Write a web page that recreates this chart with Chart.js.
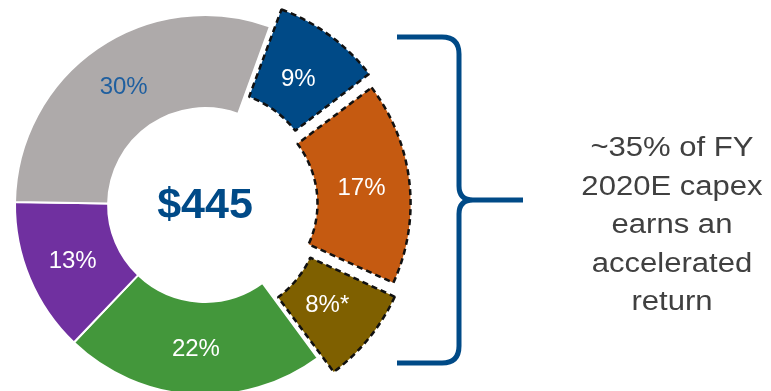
<!DOCTYPE html>
<html>
<head>
<meta charset="utf-8">
<script src="https://cdn.jsdelivr.net/npm/chart.js@4.4.0/dist/chart.umd.min.js"></script>
<style>
  html, body {
    margin: 0;
    padding: 0;
    background: #fff;
    overflow: hidden;
  }
  #wrap {
    position: relative;
    width: 771px;
    height: 391px;
  }
  #note {
    position: absolute;
    left: 560px;
    top: 128px;
    width: 224px;
    text-align: center;
    font-family: "Liberation Sans", Arial, sans-serif;
    font-size: 27px;
    line-height: 38.5px;
    color: #404040;
    transform: scaleX(1.15);
    transform-origin: center top;
  }
</style>
</head>
<body>
<div id="wrap">
  <canvas id="capex-chart"></canvas>
  <div id="note">~35% of FY<br>2020E capex<br>earns an<br>accelerated<br>return</div>
</div>
<script>
// FY 2020E capex split, % of total
const categories = ['Accelerated A', 'Accelerated B', 'Accelerated C', 'Other A', 'Other B', 'Other C'];
const shares = [9, 17, 8, 22, 13, 30];
const footnotes = ['', '', '*', '', '', ''];
const accelerated = [true, true, true, false, false, false];
const totalCapex = '$445';

const fills = ['#004A87', '#C55A11', '#7F6000', '#43973B', '#7030A0', '#AEAAAA'];
const labelColors = ['#fff', '#fff', '#fff', '#fff', '#fff', '#1F5F9F'];
const explode = 56;

// percent labels, shifted along with exploded slices
const sliceLabels = {
  id: 'sliceLabels',
  afterDatasetsDraw(chart) {
    const {ctx} = chart;
    const arcs = chart.getDatasetMeta(0).data;
    ctx.save();
    ctx.font = '24px "Liberation Sans", Arial, sans-serif';
    ctx.textAlign = 'center';
    ctx.textBaseline = 'middle';
    arcs.forEach((arc, i) => {
      const mid = (arc.startAngle + arc.endAngle) / 2;
      const r = (arc.innerRadius + arc.outerRadius) / 2 + (accelerated[i] ? explode / 4 : 0);
      ctx.fillStyle = labelColors[i];
      ctx.fillText(`${shares[i]}%${footnotes[i]}`, arc.x + Math.cos(mid) * r, arc.y + Math.sin(mid) * r + 1);
    });
    // total in the hole
    const c = arcs[0];
    ctx.font = 'bold 43px "Liberation Sans", Arial, sans-serif';
    ctx.fillStyle = '#004A87';
    ctx.fillText(totalCapex, c.x, c.y + 1);
    ctx.restore();
  },
};

// curly brace grouping the exploded slices
const brace = {
  id: 'brace',
  afterDraw(chart) {
    const {ctx} = chart;
    ctx.save();
    ctx.strokeStyle = '#004A87';
    ctx.lineWidth = 5;
    ctx.beginPath();
    ctx.moveTo(397, 37);
    ctx.lineTo(442, 37);
    ctx.quadraticCurveTo(459, 37, 459, 54);
    ctx.lineTo(459, 186);
    ctx.quadraticCurveTo(459, 200, 473, 200);
    ctx.lineTo(523, 200);
    ctx.moveTo(473, 200);
    ctx.quadraticCurveTo(459, 200, 459, 214);
    ctx.lineTo(459, 346);
    ctx.quadraticCurveTo(459, 363, 442, 363);
    ctx.lineTo(397, 363);
    ctx.stroke();
    ctx.restore();
  },
};

new Chart(document.getElementById('capex-chart'), {
  type: 'doughnut',
  data: {
    labels: categories,
    datasets: [{
      data: shares,
      backgroundColor: fills,
      borderColor: ctx => accelerated[ctx.dataIndex] ? '#111' : '#fff',
      borderWidth: ctx => accelerated[ctx.dataIndex] ? 2.5 : 2,
      borderDash: ctx => accelerated[ctx.dataIndex] ? [6, 4] : [],
      offset: ctx => accelerated[ctx.dataIndex] ? explode : 0,
      hoverOffset: 0,
    }],
  },
  options: {
    responsive: true,
    maintainAspectRatio: false,
    animation: false,
    events: [],
    rotation: 20,
    radius: 190,
    cutout: '51%',
    layout: {
      padding: {left: 0, right: 361, top: 19, bottom: 0},
    },
    plugins: {
      legend: {display: false},
      tooltip: {enabled: false},
    },
  },
  plugins: [sliceLabels, brace],
});
</script>
</body>
</html>
